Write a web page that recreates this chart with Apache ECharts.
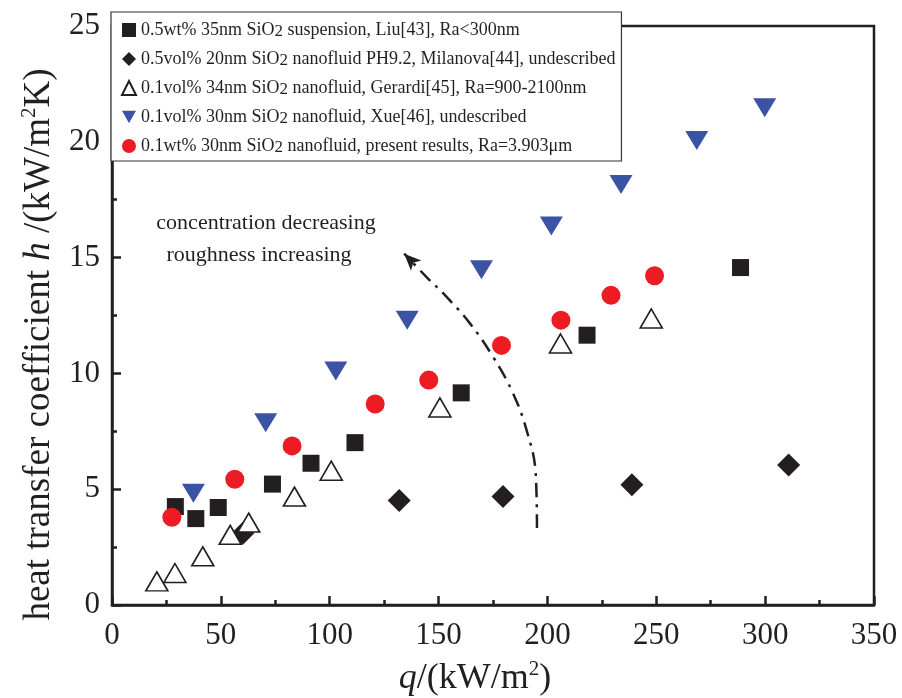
<!DOCTYPE html>
<html>
<head>
<meta charset="utf-8">
<script src="https://cdn.jsdelivr.net/npm/echarts@6/dist/echarts.min.js"></script>
<style>html,body{margin:0;padding:0;background:#fff;}#c{width:902px;height:698px;}</style>
</head>
<body>
<div id="c"></div>
<script>
// ---- data (x = q kW/m2, y = h kW/m2K) ----
const liuX = [29.1, 38.5, 48.8, 73.7, 91.4, 111.6, 160.4, 218.2, 288.7];
const liuY = [4.25, 3.73, 4.21, 5.22, 6.12, 7.01, 9.16, 11.65, 14.57];
const milX = [60.1, 131.9, 179.6, 238.8, 310.8];
const milY = [3.10, 4.51, 4.68, 5.19, 6.05];
const gerX = [20.6, 28.9, 41.7, 54.3, 62.8, 83.8, 100.7, 150.6, 206.0, 247.7];
const gerY = [1.02, 1.38, 2.10, 3.03, 3.56, 4.68, 5.80, 8.53, 11.29, 12.37];
const xueX = [37.4, 70.6, 102.8, 135.6, 169.7, 201.8, 233.8, 268.6, 299.8];
const xueY = [4.83, 7.87, 10.10, 12.30, 14.48, 16.36, 18.16, 20.06, 21.47];
const preX = [27.5, 56.4, 82.7, 120.9, 145.5, 178.9, 206.2, 229.2, 249.2];
const preY = [3.79, 5.43, 6.87, 8.68, 9.71, 11.21, 12.30, 13.37, 14.22];
// annotation arrow path (data coords)
const arrowX = [195.2, 194.6, 190.4, 184.2, 175.0, 164.4, 153.7, 144.5, 134.2];
const arrowY = [3.32, 5.69, 7.56, 9.14, 10.72, 12.16, 13.30, 14.16, 15.17];
const xTicks = [0, 50, 100, 150, 200, 250, 300, 350];
const yTicks = [0, 5, 10, 15, 20, 25];
const seriesNames = [
  '0.5wt% 35nm SiO2 suspension, Liu[43], Ra<300nm',
  '0.5vol% 20nm SiO2 nanofluid PH9.2, Milanova[44], undescribed',
  '0.1vol% 34nm SiO2 nanofluid, Gerardi[45], Ra=900-2100nm',
  '0.1vol% 30nm SiO2 nanofluid, Xue[46], undescribed',
  '0.1wt% 30nm SiO2 nanofluid, present results, Ra=3.903\u03bcm'
];
const annoLines = ['concentration decreasing', 'roughness increasing'];

const zip = (xs, ys) => xs.map((x, i) => [x, ys[i]]);
const FONT = 'Liberation Serif';
const BLACK = '#231f20';
const BLUE = '#3a53a4';

const chart = echarts.init(document.getElementById('c'), null, {renderer: 'canvas'});
function nameStyle(fs, padding) {
  return {fontFamily: FONT, fontSize: fs, color: BLACK, padding: padding,
    rich: {
      t: {fontFamily: FONT, fontSize: fs, color: BLACK, lineHeight: fs + 4},
      i: {fontFamily: FONT, fontSize: fs, color: BLACK, fontStyle: 'italic', lineHeight: fs + 4},
      sup: {fontFamily: FONT, fontSize: Math.round(fs * 0.58), color: BLACK, verticalAlign: 'top', lineHeight: Math.round(fs * 0.45)}
    }
  };
}
const axisCommon = {
  axisLine: {show: true, onZero: false, lineStyle: {color: BLACK, width: 2.5}},
  axisTick: {show: true, inside: true, length: 9, lineStyle: {color: BLACK, width: 2.5}},
  minorTick: {show: true, splitNumber: 2, length: 5, lineStyle: {color: BLACK, width: 2.5}},
  splitLine: {show: false}
};

const option = {
  animation: false,
  backgroundColor: '#fff',
  grid: {left: 112, right: 28, top: 26, bottom: 93, show: true, borderColor: BLACK, borderWidth: 2.5,
         outerBoundsMode: 'none', containLabel: false},
  legend: {
    show: true, orient: 'vertical', left: 111, top: 12,
    data: [
      {name: seriesNames[0], icon: 'rect', itemStyle: {color: BLACK}},
      {name: seriesNames[1], icon: 'diamond'},
      {name: seriesNames[2], icon: 'triangle'},
      {name: seriesNames[3], icon: 'path://M0,0L10,0L5,9Z', itemStyle: {color: BLUE}},
      {name: seriesNames[4], icon: 'circle'}
    ],
    itemWidth: 14, itemHeight: 14, itemGap: 10,
    padding: [9, 6, 5, 10],
    borderColor: '#333', borderWidth: 1.2, backgroundColor: '#fff',
    formatter: function (name) {
      const p = name.split('SiO2');
      return '{t|' + p[0] + 'SiO}{s|2}{t|' + p[1] + '}';
    },
    textStyle: {
      fontFamily: FONT, fontSize: 18, color: BLACK,
      rich: {
        t: {fontFamily: FONT, fontSize: 18, color: BLACK, lineHeight: 20},
        s: {fontFamily: FONT, fontSize: 17, color: BLACK, lineHeight: 10, verticalAlign: 'bottom'}
      }
    }
  },
  xAxis: Object.assign({}, axisCommon, {
    type: 'value', min: xTicks[0], max: xTicks[xTicks.length - 1], interval: 50,
    axisLabel: {fontFamily: FONT, fontSize: 31, color: BLACK, margin: 15},
    name: '{i|q}{t|/(kW/m}{sup|2}{t|)}', nameLocation: 'middle', nameGap: 54,
    nameTextStyle: nameStyle(36, [0, 36, 0, 0])
  }),
  yAxis: Object.assign({}, axisCommon, {
    type: 'value', min: yTicks[0], max: yTicks[yTicks.length - 1], interval: 5,
    axisLabel: {fontFamily: FONT, fontSize: 31, color: BLACK, margin: 12},
    name: '{t|heat transfer coefficient }{i|h}{t| /(kW/m}{sup|2}{t|K)}', nameLocation: 'middle', nameGap: 52,
    nameTextStyle: nameStyle(37, [0, 58, 0, 0])
  }),
  graphic: [
    {type: 'text', x: 266, y: 223, style: {text: annoLines[0], textAlign: 'center', textVerticalAlign: 'middle', font: '22px "Liberation Serif"', fill: BLACK}},
    {type: 'text', x: 259, y: 255, style: {text: annoLines[1], textAlign: 'center', textVerticalAlign: 'middle', font: '22px "Liberation Serif"', fill: BLACK}}
  ],
  series: [
    {name: seriesNames[0], type: 'scatter', data: zip(liuX, liuY), symbol: 'rect', symbolSize: 17,
     itemStyle: {color: BLACK, opacity: 1}},
    {name: seriesNames[1], type: 'scatter', data: zip(milX, milY), symbol: 'diamond', symbolSize: 23,
     itemStyle: {color: BLACK, opacity: 1}},
    {name: seriesNames[2], type: 'scatter', data: zip(gerX, gerY), symbol: 'triangle', symbolSize: [22, 19],
     itemStyle: {color: '#fff', borderColor: BLACK, borderWidth: 1.6, opacity: 1}},
    {name: seriesNames[3], type: 'scatter', data: zip(xueX, xueY), symbol: 'triangle', symbolSize: [23, 19], symbolRotate: 180,
     itemStyle: {color: BLUE, opacity: 1}},
    {name: seriesNames[4], type: 'scatter', data: zip(preX, preY), symbol: 'circle', symbolSize: 19,
     itemStyle: {color: '#ed1c24', opacity: 1}},
    {name: 'arrow', type: 'line', data: zip(arrowX, arrowY), smooth: 0.4, symbol: 'none',
     lineStyle: {color: BLACK, width: 2.5, type: [14, 7, 3, 7]}, z: 1, silent: true},
    {name: 'arrowhead', type: 'scatter', data: [[arrowX[arrowX.length - 1], arrowY[arrowY.length - 1]]],
     symbol: 'arrow', symbolSize: [11, 17], symbolRotate: 45, itemStyle: {color: BLACK, opacity: 1}, silent: true}
  ]
};
chart.setOption(option);
</script>
</body>
</html>
